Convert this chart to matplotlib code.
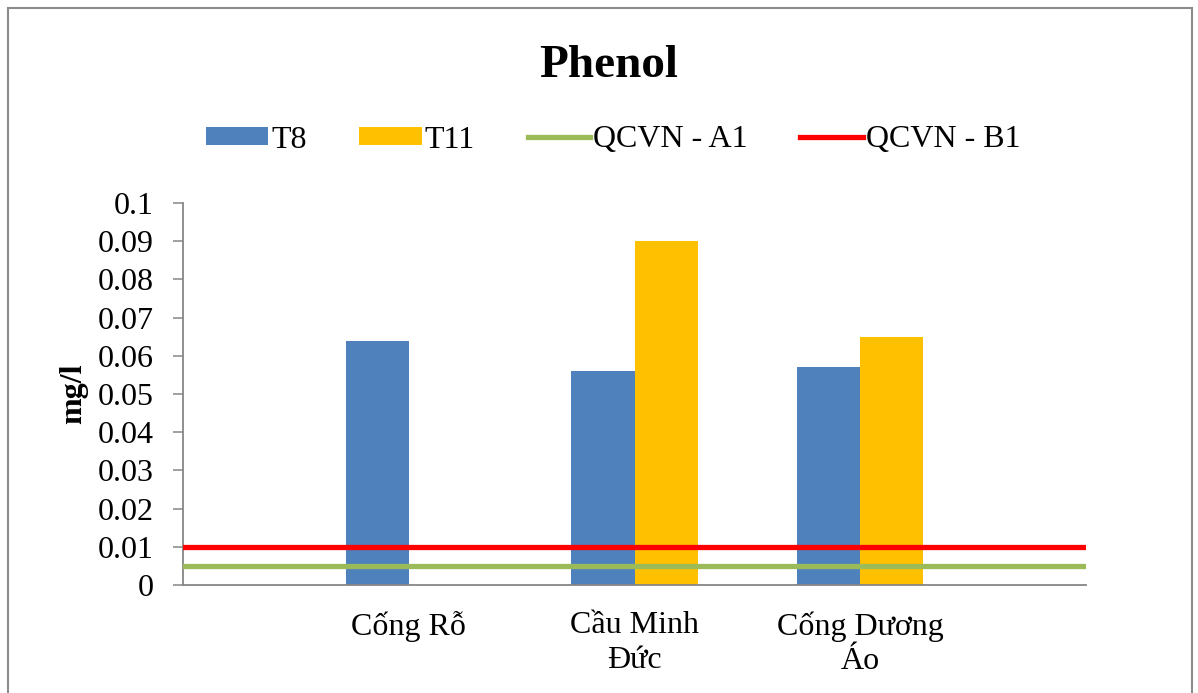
import numpy as np
import matplotlib
matplotlib.use("Agg")
import matplotlib.pyplot as plt
from matplotlib.patches import Rectangle

categories = ["Cống Rỗ", "Cầu Minh\nĐức", "Cống Dương\nÁo"]
t8 = [0.064, 0.056, 0.057]
t11 = [np.nan, 0.090, 0.065]
qcvn_a1 = 0.005
qcvn_b1 = 0.01
yticks = [0, 0.01, 0.02, 0.03, 0.04, 0.05, 0.06, 0.07, 0.08, 0.09, 0.1]
ytick_labels = ["0", "0.01", "0.02", "0.03", "0.04", "0.05", "0.06", "0.07", "0.08", "0.09", "0.1"]

plt.rcParams['font.family'] = ['Liberation Serif', 'DejaVu Serif']

W, H = 1198, 693
fig = plt.figure(figsize=(W / 100, H / 100), dpi=100)
fig.patch.set_facecolor("white")

# outer border
fig.patches.append(Rectangle((8 / W, -0.05), (1192 - 8) / W, (H - 8) / H + 0.05,
                             transform=fig.transFigure, fill=False,
                             edgecolor="#8c8c8c", linewidth=1.5))

ax = fig.add_axes([183 / W, 1 - 585 / H, (1086 - 183) / W, (585 - 203) / H])

x = np.arange(len(categories))
bw = 0.28
h_t8 = ax.bar(x - bw / 2, t8, width=bw, color="#4F81BD", label="T8", zorder=2)
h_t11 = ax.bar(x + bw / 2, t11, width=bw, color="#FFC000", label="T11", zorder=2)
h_a1 = ax.axhline(qcvn_a1, color="#9BBB59", linewidth=3.8, label="QCVN - A1", zorder=3)
h_b1 = ax.axhline(qcvn_b1, color="#FF0000", linewidth=3.8, label="QCVN - B1", zorder=3)

ax.set_xlim(-1.0, 3.0)
ax.set_ylim(0, 0.1)
ax.set_yticks(yticks)
ax.set_yticklabels(ytick_labels)
ax.set_xticks(x)
ax.set_xticklabels(categories, linespacing=1.25)

for s in ["top", "right"]:
    ax.spines[s].set_visible(False)
for s in ["left", "bottom"]:
    ax.spines[s].set_color("#868686")
    ax.spines[s].set_linewidth(1.3)

ax.tick_params(axis="y", direction="out", length=7, width=1.1, color="#868686",
               labelsize=23, pad=14)
ax.tick_params(axis="x", length=0, labelsize=23, pad=19)

ax.set_ylabel("mg/l", fontsize=23, fontweight="bold", labelpad=7)

fig.text(609 / W, 1 - 66 / H, "Phenol", ha="center", va="center",
         fontsize=34, fontweight="bold")

handles = [h_t8, h_t11, h_a1, h_b1]
labels = ["T8", "T11", "QCVN - A1", "QCVN - B1"]
leg = fig.legend(handles, labels, loc="center", bbox_to_anchor=(613 / W, 1 - 140 / H),
                 ncol=4, frameon=False, fontsize=23, handlelength=1.95,
                 handletextpad=0.1, columnspacing=1.65, handleheight=0.5)

fig.savefig("out.png", dpi=100, facecolor="white")
